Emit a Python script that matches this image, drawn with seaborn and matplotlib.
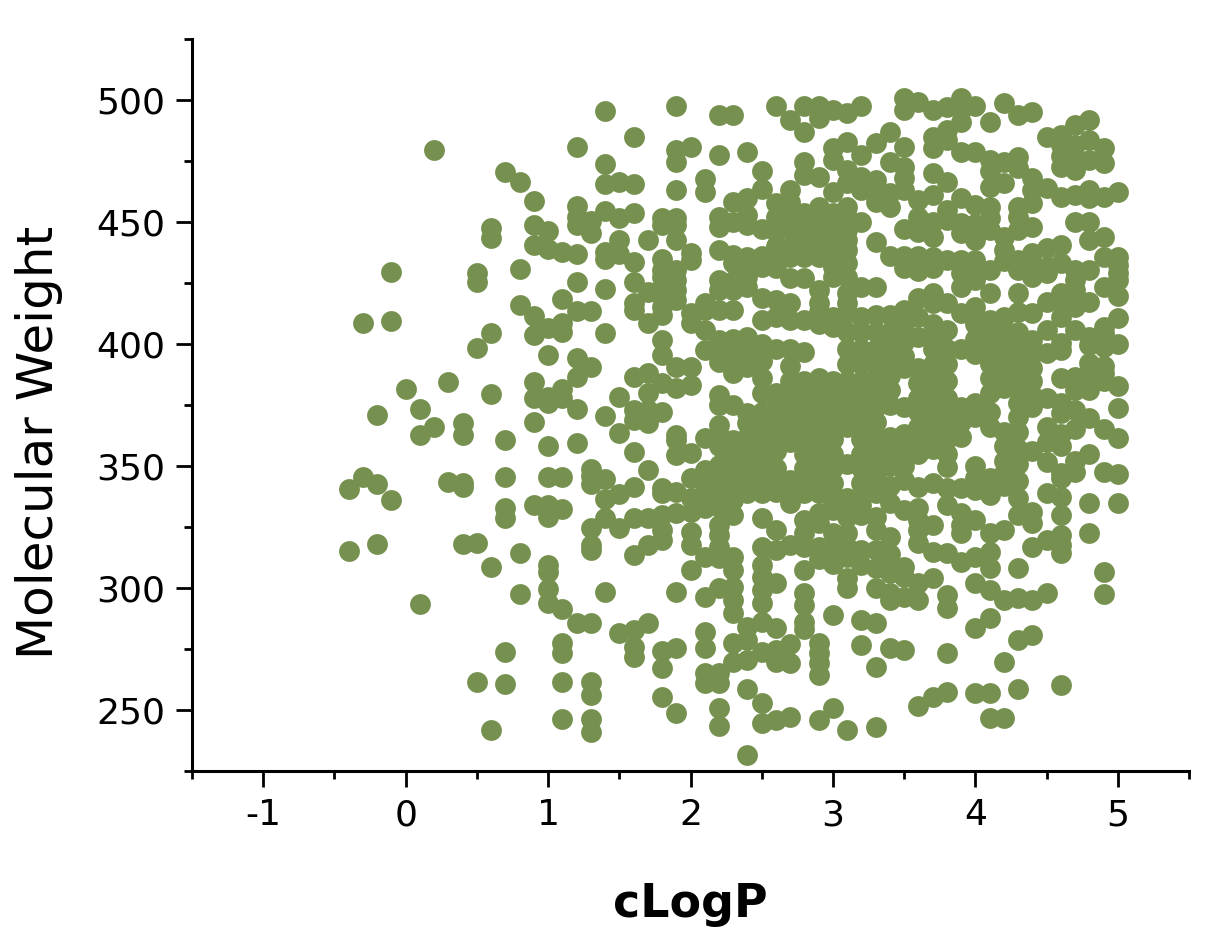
import matplotlib
matplotlib.use("Agg")
import matplotlib.pyplot as plt
import pandas as pd
import seaborn as sns
from matplotlib.ticker import MultipleLocator

# Molecular weight values, one list per cLogP column
mw_m04 = [340.6, 315]
mw_m03 = [345.6, 408.6]
mw_m02 = [342.5, 318, 371]
mw_m01 = [336, 429.5, 409.5]
mw_00 = [381.6]
mw_01 = [373.5, 362.7, 293.6]
mw_02 = [479.5, 366]
mw_03 = [384.6, 343.5]
mw_04 = [367.7, 362.7, 343, 341.5, 318]
mw_05 = [318.6, 429, 425.6, 398.5, 261.6]
mw_06 = [447.5, 443.6, 404.6, 379.5, 308.5, 242]
mw_07 = [470.6, 360.6, 345.6, 332.7, 328.6, 273.7, 260.5]
mw_08 = [466.5, 430.6, 416, 314.5, 297.5]
mw_09 = [458.6, 448.7, 440.7, 411.5, 403.5, 384.6, 378, 368, 334]
mw_10 = [446.3, 439, 406.4, 395.5, 378.4, 376, 358, 345.6, 334, 329, 309.4, 306.4, 299.6, 293.7]
mw_11 = [437.6, 418.4, 408.5, 405, 381.5, 378, 345.6, 332.5, 291.5, 277.5, 273.5, 261.6, 246.4]
mw_12 = [480.7, 456.7, 452, 448.7, 436.8, 425.6, 413.7, 394.4, 386.6, 373.5, 359.3, 285.6]
mw_13 = [450.4, 445.4, 413.7, 390.7, 348.7, 346, 342.5, 324.6, 317.6, 315.5, 285.6, 261.6, 256, 246.4, 241]
mw_14 = [495.6, 473.7, 465.7, 454.6, 437.6, 435, 422.6, 404.6, 370.5, 344.7, 336.3, 328.6, 298.5]
mw_15 = [466.5, 451.5, 442.6, 437, 378.4, 363.5, 338.7, 324.6, 281.6]
mw_16 = [484.7, 465.6, 453.6, 433.6, 425.5, 416.7, 414, 386.6, 373, 368.9, 355.9, 341.5, 328.5, 313.5, 282.8, 276, 271.9]
mw_17 = [442.6, 421.5, 408.5, 388, 380, 373, 367.5, 348.4, 328.5, 317.6, 285.5]
mw_18 = [451.5, 448.8, 435, 430.3, 427.6, 423.5, 419.4, 415.3, 411.9, 401.6, 395.5, 383.9, 372.3, 340.8, 338.8, 329.9, 323.8, 319.7, 274, 267.3, 255.5]
mw_19 = [497.7, 479.5, 474.7, 463.1, 451.5, 448.8, 442.6, 430.3, 426.2, 422.1, 418, 390.7, 381.8, 362.7, 360.7, 354.5, 339.5, 330.6, 298.5, 275.3, 248.6]
mw_20 = [480.6, 437.2, 434.4, 412.6, 408.5, 390.7, 383.2, 355.2, 345, 336.7, 331.3, 323.1, 317.6, 307.4]
mw_21 = [467.5, 462.4, 416.7, 414, 405.7, 397.5, 361.3, 348.4, 344, 340, 336, 332.7, 312.8, 296.4, 282.1, 275.3, 265, 261]
mw_22 = [493.8, 477.5, 452.2, 448.1, 438.5, 426.2, 422.1, 414, 401.6, 397.5, 392.8, 379, 375, 366.8, 362.7, 358, 350.4, 347, 342, 338, 333, 325.8, 321.7, 317, 312.2, 299.9, 265, 261, 250.7, 243.4]
mw_23 = [493.8, 458.3, 450.1, 436.5, 433.1, 426, 422, 414, 402, 396, 388, 375, 360.7, 356.5, 352.5, 348, 344, 340, 336, 330, 312.9, 307.4, 300.5, 295, 289.6, 277.3, 269.5]
mw_24 = [478.6, 459.7, 452.9, 448.8, 435.8, 431.7, 427.6, 423.5, 403, 396.9, 390.7, 371.6, 367.5, 362, 356.5, 351.8, 347, 342.2, 338.8, 284.2, 278.7, 270.5, 258.5, 231.6]
mw_25 = [470.9, 463.4, 447, 436, 431.7, 418.7, 409.8, 400, 393, 386, 380, 372, 365, 358, 352.5, 347, 342.2, 338.8, 328.8, 317, 309.4, 304.6, 299.2, 293.7, 286.2, 273.9, 252.7, 244.5]
mw_26 = [497.7, 457.6, 452.2, 446, 440, 436, 431, 418, 411, 398, 380, 374, 368, 362, 356, 349, 343, 339.5, 323.8, 315.6, 301.9, 283.5, 274.6, 269.8, 245.9]
mw_27 = [491.8, 463.1, 458, 451.5, 447, 439.9, 435.8, 427, 417, 410, 398, 391, 385, 378, 372, 366, 360, 344.3, 338, 335, 317.6, 277, 269.1, 247.3]
mw_28 = [497.7, 487, 474.7, 469.3, 453.6, 449.5, 445.4, 439.9, 435.8, 427, 409.8, 396.9, 385, 379, 373, 367, 361, 355, 349, 343, 338.8, 328, 322.5, 317, 307.4, 297.8, 293, 286.2, 283]
mw_29 = [497.7, 492.5, 468.6, 456.3, 452.2, 448.1, 444, 439.9, 435.8, 422.1, 416.7, 413.3, 408, 386, 381, 375, 369, 363, 357, 351, 345, 338.8, 330.6, 326.5, 317, 312, 277.3, 273.2, 269.1, 264.3, 245.9]
mw_30 = [495.9, 480.2, 475.4, 462.4, 453.6, 449.5, 445.4, 441.3, 437.2, 431.7, 427.6, 411.2, 407, 385, 379, 373, 367, 361, 355, 349, 343, 338, 335.4, 332, 322.4, 317, 310, 289, 250.7]
mw_31 = [494.5, 482.9, 471.3, 465.8, 456.3, 452.2, 446.7, 442.6, 438.5, 433, 427.6, 420.8, 416.7, 412.6, 405, 398, 392, 385, 378, 372, 366, 351, 337, 333.3, 329.2, 322.4, 317, 312.8, 304, 299.9, 241.8]
mw_32 = [497.7, 477.5, 468.6, 463.1, 450.1, 423.5, 411, 405, 398, 392, 385, 379, 373, 367, 361, 355, 349, 343, 338, 334, 330, 315.6, 309.4, 286.9, 276.6]
mw_33 = [482.2, 467.2, 463, 458, 442, 423.5, 412, 405, 398, 392, 386, 380, 374, 368, 362, 356, 350, 345.6, 338.8, 329.2, 323.8, 315.6, 308, 300, 285.5, 267.5, 243.2]
mw_34 = [487, 474.7, 462, 456, 436, 412, 405, 399, 393, 387, 381, 375, 362, 356, 350, 342, 335, 321, 314, 310, 306, 297.8, 295, 275.3]
mw_35 = [500.7, 495.9, 480.9, 472.7, 468, 463, 447, 436, 431, 414, 408, 401, 395, 390, 374, 363, 356, 350, 344.3, 332, 308.7, 304.6, 296.5, 274.6]
mw_36 = [499.3, 459, 452, 446, 436, 430, 419, 411, 403, 390, 384, 378, 372, 366, 360, 355, 341.5, 332.7, 328, 323.8, 318.3, 301.9, 295, 251.6]
mw_37 = [495.9, 485, 480.2, 470, 461, 450, 444, 435.8, 431, 420.8, 416.7, 408, 403, 398, 392, 386, 380, 374, 368, 362, 357, 342.9, 325.8, 314.9, 304, 255.5]
mw_38 = [497.3, 487.7, 483.6, 466.5, 455, 450.8, 434.4, 416.7, 405.7, 398, 392, 385, 378, 372, 366, 361, 355, 349.7, 340.8, 334, 314.2, 297, 291.7, 273.5, 257.5]
mw_39 = [500.7, 495.9, 491.1, 478.8, 459.7, 449.5, 445.4, 434.4, 429, 423.5, 412.6, 398, 374, 368, 362, 340.8, 330.6, 326, 322.4, 310.8]
mw_40 = [497.7, 478.8, 457, 449, 442.6, 434.4, 429.6, 426.2, 415.3, 408, 402, 396, 376, 370, 350, 345, 340, 327.9, 312.9, 301.9, 283.5, 256.8]
mw_41 = [490.9, 475.4, 471, 464.5, 456.3, 451.5, 446.7, 430.3, 420.8, 410, 404, 398, 392, 386, 380, 372, 366, 345, 338, 322.4, 314.9, 308, 299.2, 287.6, 256.8, 246.6]
mw_42 = [498.6, 474.7, 465.8, 444, 438.5, 434, 411, 405, 400, 394, 388, 382, 364, 358, 352, 347, 342, 323.8, 295, 269.8, 246.6]
mw_43 = [493.9, 476.8, 472, 456.3, 452.2, 446.7, 434.4, 430.3, 420.8, 413, 405, 400, 395, 388, 382, 376, 370, 364, 357, 351, 344, 336.8, 329.9, 308, 295.8, 278.7, 258.5]
mw_44 = [494.9, 467.9, 463.1, 457.7, 448.1, 437.2, 433.1, 427.6, 412.6, 401.6, 396, 390, 385, 379, 374, 356, 331.3, 326.5, 317, 295, 280.7]
mw_45 = [485, 463.8, 439.2, 431.7, 429, 417.4, 405.7, 396.2, 378, 366, 360, 351.8, 338.8, 319.7, 297.8]
mw_46 = [485.7, 481.5, 477, 472.7, 460.4, 440.6, 433.1, 420.8, 416.7, 411.2, 400.3, 397.5, 386, 375.7, 371.6, 363, 358, 347, 345, 337.4, 329.9, 321.7, 317.6, 314.2, 260.2]
mw_47 = [489.8, 481.5, 475.4, 471.3, 461.1, 450.1, 430.3, 426.2, 422.1, 415.3, 405.7, 386.6, 381.1, 373, 365, 352, 347.7]
mw_48 = [491.8, 483.6, 475.4, 463.1, 459.7, 450.1, 442.6, 430.3, 417.4, 403, 399.6, 392.1, 388, 381.1, 369.5, 355, 335, 322.4]
mw_49 = [480.2, 474, 460.4, 444, 435.8, 423.5, 407.1, 404.4, 398.9, 391, 388, 385, 365, 347.7, 306.7, 297.5]
mw_50 = [462.4, 435.8, 432.4, 429, 426.2, 419.7, 410.5, 400, 382.8, 373.6, 361.3, 346.6, 334.7]

clogp_columns = [-0.4, -0.3, -0.2, -0.1, 0.0, 0.1, 0.2, 0.3, 0.4, 0.5, 0.6, 0.7, 0.8, 0.9,
                 1.0, 1.1, 1.2, 1.3, 1.4, 1.5, 1.6, 1.7, 1.8, 1.9,
                 2.0, 2.1, 2.2, 2.3, 2.4, 2.5, 2.6, 2.7, 2.8, 2.9,
                 3.0, 3.1, 3.2, 3.3, 3.4, 3.5, 3.6, 3.7, 3.8, 3.9,
                 4.0, 4.1, 4.2, 4.3, 4.4, 4.5, 4.6, 4.7, 4.8, 4.9, 5.0]
mw_columns = [mw_m04, mw_m03, mw_m02, mw_m01, mw_00, mw_01, mw_02, mw_03, mw_04, mw_05, mw_06, mw_07, mw_08, mw_09,
              mw_10, mw_11, mw_12, mw_13, mw_14, mw_15, mw_16, mw_17, mw_18, mw_19,
              mw_20, mw_21, mw_22, mw_23, mw_24, mw_25, mw_26, mw_27, mw_28, mw_29,
              mw_30, mw_31, mw_32, mw_33, mw_34, mw_35, mw_36, mw_37, mw_38, mw_39,
              mw_40, mw_41, mw_42, mw_43, mw_44, mw_45, mw_46, mw_47, mw_48, mw_49, mw_50]

rows = []
for clogp, weights in zip(clogp_columns, mw_columns):
    for mw in weights:
        rows.append({"cLogP": clogp, "MW": mw})
data = pd.DataFrame(rows)

sns.set_style("white")
plt.rcParams['font.family'] = ['DejaVu Sans']
plt.rcParams['axes.unicode_minus'] = False
plt.rcParams['text.color'] = 'black'
plt.rcParams['axes.labelcolor'] = 'black'
plt.rcParams['xtick.labelcolor'] = 'black'
plt.rcParams['ytick.labelcolor'] = 'black'

fig, ax = plt.subplots(figsize=(12.24, 9.39), dpi=100)
fig.subplots_adjust(left=192 / 1224, right=1189 / 1224, top=1 - 39 / 939, bottom=1 - 771 / 939)

sns.scatterplot(data=data, x="cLogP", y="MW", color="#76914f", s=225, linewidth=0, ax=ax)

ax.set_xlim(-1.5, 5.5)
ax.set_ylim(225, 525)
ax.xaxis.set_major_locator(MultipleLocator(1))
ax.xaxis.set_minor_locator(MultipleLocator(0.5))
ax.yaxis.set_major_locator(MultipleLocator(50))
ax.yaxis.set_minor_locator(MultipleLocator(25))

ax.set_xlabel("cLogP", fontsize=33, fontweight='bold')
ax.set_ylabel("Molecular Weight", fontsize=36)
ax.xaxis.set_label_coords(0.5, -0.152)
ax.yaxis.set_label_coords(-0.129, 0.449)

# Customize axis spines
for spine_location, spine in ax.spines.items():
    if spine_location in ['left', 'bottom']:
        spine.set_visible(True)
        spine.set_color('black')
        spine.set_linewidth(2.2)
    else:
        spine.set_visible(False)

ax.tick_params(axis='both', which='major', direction='out', length=11.5, width=2,
               color='black', labelsize=26, left=True, bottom=True, pad=8)
ax.tick_params(axis='both', which='minor', direction='out', length=6, width=2,
               color='black', left=True, bottom=True)
ax.grid(False)

plt.savefig("out.png", dpi=100)
